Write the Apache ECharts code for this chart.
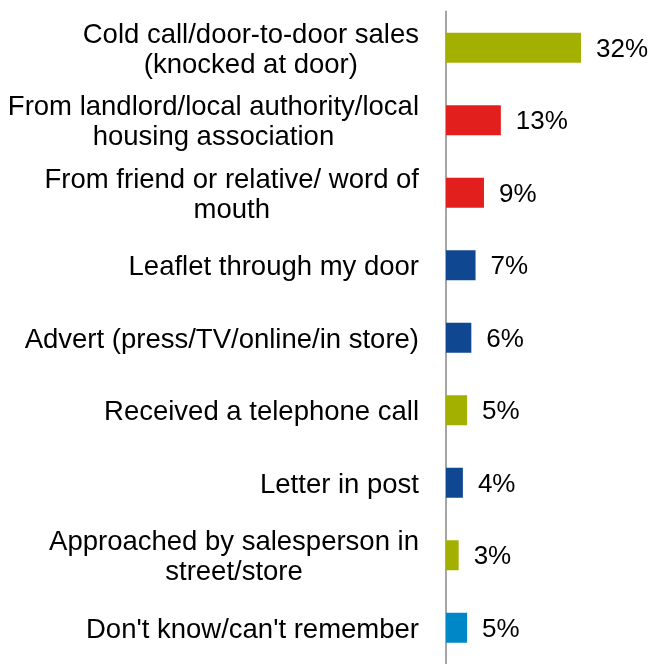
<!DOCTYPE html>
<html>
<head>
<meta charset="utf-8">
<script src="https://cdn.jsdelivr.net/npm/echarts@6/dist/echarts.min.js"></script>
<style>
  html, body { margin: 0; padding: 0; background: #fff; }
  #chart { width: 650px; height: 664px; }
</style>
</head>
<body>
<div id="chart"></div>
<script>
// How people first heard about the offer (% of respondents)
const categories = [
  'Cold call/door-to-door sales\n(knocked at door)',
  'From landlord/local authority/local\nhousing association',
  'From friend or relative/ word of\nmouth',
  'Leaflet through my door',
  'Advert (press/TV/online/in store)',
  'Received a telephone call',
  'Letter in post',
  'Approached by salesperson in\nstreet/store',
  "Don't know/can't remember"
];
const values = [32, 13, 9, 7, 6, 5, 4, 3, 5];

// Bar fill per category
const OLIVE = '#A3B000';
const RED = '#E31F1D';
const NAVY = '#0F4790';
const SKY = '#0087C8';
const barColors = [OLIVE, RED, RED, NAVY, NAVY, OLIVE, NAVY, OLIVE, SKY];

const FONT = '"Liberation Sans", Arial, sans-serif';
const CAT_SIZE = 27.5;
const VAL_SIZE = 26;
const X_MAX = 40;
const PX_PER_UNIT = 4.22;
const BAND = 73.1;

const chart = echarts.init(document.getElementById('chart'), null, { renderer: 'canvas' });

chart.setOption({
  backgroundColor: '#fff',
  animation: false,
  grid: {
    left: 446,
    top: 11.5,
    width: X_MAX * PX_PER_UNIT,
    height: BAND * categories.length,
    containLabel: false
  },
  xAxis: {
    type: 'value',
    min: 0,
    max: X_MAX,
    show: false
  },
  yAxis: {
    type: 'category',
    data: categories,
    inverse: true,
    axisLine: { show: true, lineStyle: { color: '#A6A6A6', width: 2 } },
    axisTick: { show: false },
    splitLine: { show: false },
    axisLabel: {
      margin: 27,
      fontFamily: FONT,
      fontSize: CAT_SIZE,
      color: '#000',
      lineHeight: 30,
      padding: [5, 0, 0, 0],
      // each line is centred within the label block
      formatter: (v) => v.split('\n').map(line => '{c|' + line + '}').join('\n'),
      rich: {
        c: { align: 'center', fontFamily: FONT, fontSize: CAT_SIZE, lineHeight: 30, color: '#000' }
      }
    }
  },
  series: [{
    type: 'bar',
    barWidth: 30,
    data: values.map((v, i) => ({ value: v, itemStyle: { color: barColors[i] } })),
    label: {
      show: true,
      position: 'right',
      distance: 15,
      offset: [0, 2],
      fontFamily: FONT,
      fontSize: VAL_SIZE,
      color: '#000',
      formatter: (p) => p.value + '%'
    }
  }]
});
</script>
</body>
</html>
